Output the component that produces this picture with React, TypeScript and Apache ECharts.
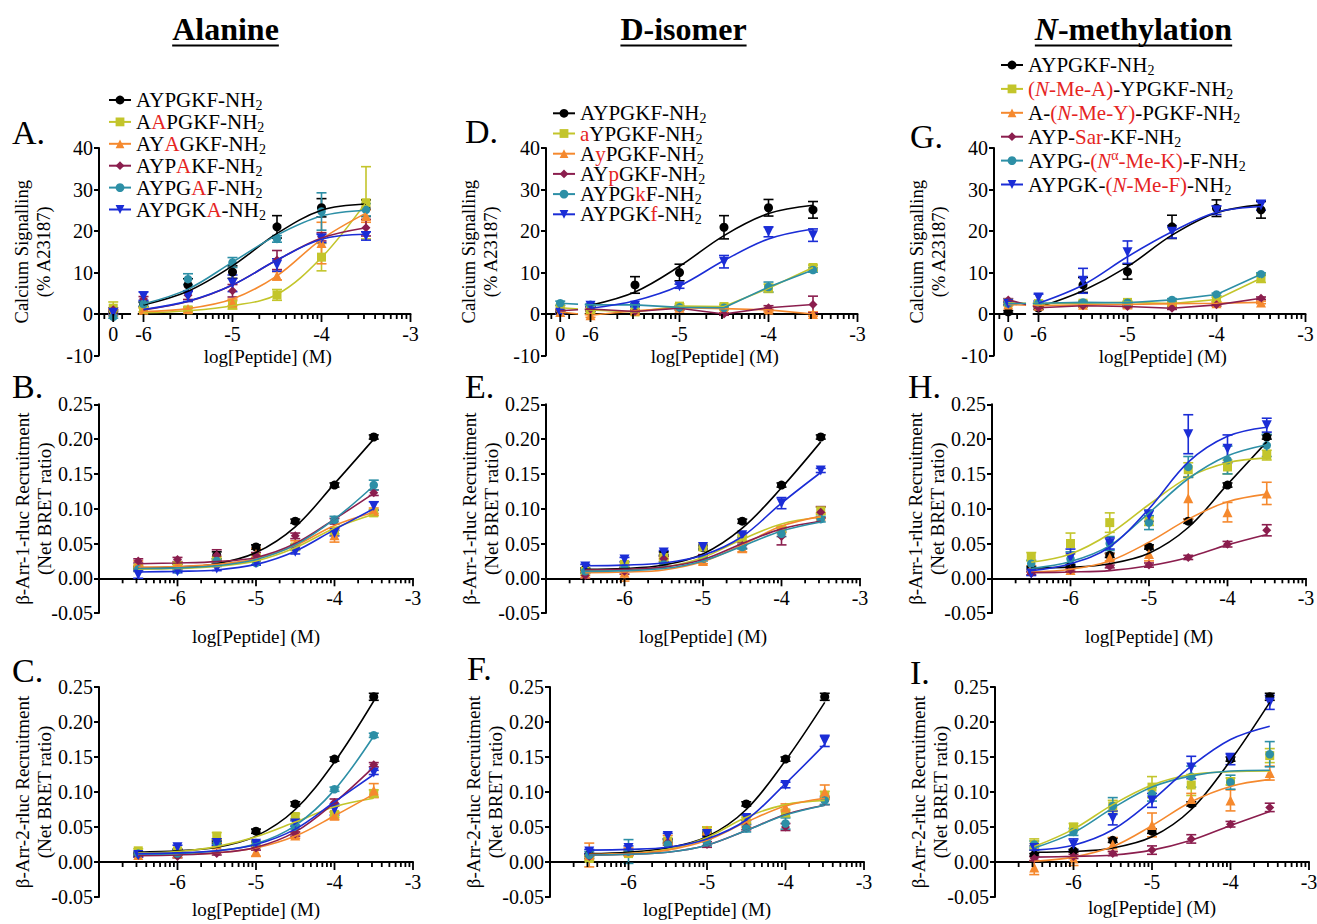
import React, { useEffect, useRef } from 'react';
import * as echarts from 'echarts';

const FF = '"Liberation Serif", "Times New Roman", Times, serif';
const COLORS = ['#000000', '#c3c52b', '#f5892e', '#8b1e4e', '#2d8fa6', '#1b2dd6'];
const RED = '#e5251f';
const SYMBOLS = ['circle', 'rect', 'triangle', 'diamond', 'circle', 'path://M0,0L10,0L5,9Z'];
const SIZES = [9, 9, 10, 9, 8.5, 10];

const ALA_NAMES = ['AYPGKF-NH2', 'AAPGKF-NH2', 'AYAGKF-NH2', 'AYPAKF-NH2', 'AYPGAF-NH2', 'AYPGKA-NH2'];
const DIS_NAMES = ['AYPGKF-NH2', 'aYPGKF-NH2', 'AyPGKF-NH2', 'AYpGKF-NH2', 'AYPGkF-NH2', 'AYPGKf-NH2'];
const NME_NAMES = ['AYPGKF-NH2', '(N-Me-A)-YPGKF-NH2', 'A-(N-Me-Y)-PGKF-NH2', 'AYP-Sar-KF-NH2', 'AYPG-(Nα-Me-K)-F-NH2', 'AYPGK-(N-Me-F)-NH2'];

const LEGEND_RICH: Record<string, string> = {
  'AYPGKF-NH2': '{n|AYPGKF-NH}{s|2}',
  'AAPGKF-NH2': '{n|A}{r|A}{n|PGKF-NH}{s|2}',
  'AYAGKF-NH2': '{n|AY}{r|A}{n|GKF-NH}{s|2}',
  'AYPAKF-NH2': '{n|AYP}{r|A}{n|KF-NH}{s|2}',
  'AYPGAF-NH2': '{n|AYPG}{r|A}{n|F-NH}{s|2}',
  'AYPGKA-NH2': '{n|AYPGK}{r|A}{n|-NH}{s|2}',
  'aYPGKF-NH2': '{r|a}{n|YPGKF-NH}{s|2}',
  'AyPGKF-NH2': '{n|A}{r|y}{n|PGKF-NH}{s|2}',
  'AYpGKF-NH2': '{n|AY}{r|p}{n|GKF-NH}{s|2}',
  'AYPGkF-NH2': '{n|AYPG}{r|k}{n|F-NH}{s|2}',
  'AYPGKf-NH2': '{n|AYPGK}{r|f}{n|-NH}{s|2}',
  '(N-Me-A)-YPGKF-NH2': '{r|(}{ri|N}{r|-Me-A)}{n|-YPGKF-NH}{s|2}',
  'A-(N-Me-Y)-PGKF-NH2': '{n|A-}{r|(}{ri|N}{r|-Me-Y)}{n|-PGKF-NH}{s|2}',
  'AYP-Sar-KF-NH2': '{n|AYP-}{r|Sar}{n|-KF-NH}{s|2}',
  'AYPG-(Nα-Me-K)-F-NH2': '{n|AYPG-}{r|(}{ri|N}{sup|α}{r|-Me-K)}{n|-F-NH}{s|2}',
  'AYPGK-(N-Me-F)-NH2': '{n|AYPGK-}{r|(}{ri|N}{r|-Me-F)}{n|-NH}{s|2}',
};

// x positions (log[Peptide]); ZERO_X is where the vehicle ("0") point sits
const ZERO_X = -6.34;
const CA_X = [ZERO_X, -6, -5.5, -5, -4.5, -4, -3.5];
const CA_FIT_X = [-6, -5.5, -5, -4.5, -4, -3.5];
const BRET_X = [-6.5, -6, -5.5, -5, -4.5, -4, -3.5];
const CA_LABELS = [ZERO_X, -6, -5, -4, -3];
const BRET_LABELS = [-6, -5, -4, -3];

// ---------- Panel A (Calcium, Alanine) ----------
const A_PTS = [
  [0.5, 2.3, 7.0, 10.1, 21.0, 25.6, 25.5],
  [1.4, 1.0, 1.0, 2.2, 4.6, 13.7, 26.8],
  [0.5, 1.0, 1.2, 2.8, 9.2, 17.1, 23.6],
  [1.0, 3.6, 4.5, 5.6, 13.0, 18.6, 20.8],
  [-0.7, 2.4, 8.4, 12.4, 18.1, 24.7, 25.1],
  [0.3, 4.3, 4.3, 7.4, 11.8, 18.2, 18.8],
];
const A_ERR = [
  [0.5, 0.5, 1.5, 1.5, 2.7, 2.2, 2.0],
  [1.5, 0.5, 0.5, 1.0, 1.3, 3.3, 8.7],
  [0.5, 0.5, 0.5, 0.8, 1.0, 5.0, 1.5],
  [0.5, 0.6, 1.0, 1.5, 2.3, 1.0, 2.0],
  [0.3, 0.5, 1.3, 1.2, 0.8, 4.5, 1.5],
  [0.3, 1.0, 1.3, 2.0, 1.5, 1.0, 1.0],
];
const A_FIT = [
  [2.2, 5.5, 11.6, 19.4, 25.0, 26.5],
  [0.3, 0.8, 2.0, 4.7, 13.6, 26.9],
  [0.6, 1.3, 3.6, 9.2, 18.0, 24.3],
  [1.0, 3.0, 7.0, 13.0, 18.3, 20.8],
  [2.4, 6.0, 12.5, 19.0, 23.6, 25.0],
  [1.1, 3.1, 7.0, 13.0, 18.0, 19.2],
];

// ---------- Panel D (Calcium, D-isomer) ----------
const D_PTS = [
  [0.5, 1.3, 7.0, 10.0, 20.9, 25.6, 25.1],
  [1.5, 1.0, 0.5, 1.9, 1.8, 6.2, 11.2],
  [0.5, -0.3, 0.8, 1.5, 1.3, 1.0, 0.0],
  [0.8, 1.2, 0.6, 1.4, 0.0, 1.5, 2.3],
  [2.6, 2.2, 2.2, 1.6, 1.5, 6.5, 10.6],
  [0.3, 2.0, 2.0, 6.7, 12.6, 19.8, 19.0],
];
const D_ERR = [
  [0.3, 0.5, 2.0, 2.0, 2.8, 2.0, 2.0],
  [0.5, 0.5, 0.3, 0.5, 0.5, 1.0, 0.6],
  [0.3, 0.5, 0.3, 0.3, 0.3, 0.5, 0.5],
  [0.3, 0.5, 0.3, 0.5, 0.3, 0.5, 2.0],
  [0.5, 0.3, 0.3, 0.3, 0.3, 1.2, 0.5],
  [0.3, 0.3, 0.3, 0.5, 1.5, 1.2, 1.5],
];
const D_FIT = [
  [2.1, 5.3, 11.5, 18.9, 24.2, 26.2],
  null,
  null,
  null,
  null,
  [1.4, 3.2, 6.8, 12.9, 18.1, 20.5],
];

// ---------- Panel G (Calcium, N-methylation) ----------
const G_PTS = [
  [0.5, 1.4, 7.0, 10.2, 21.0, 25.5, 25.1],
  [2.7, 2.5, 2.6, 2.8, 2.5, 3.5, 8.6],
  [2.3, 2.0, 2.2, 2.3, 2.5, 2.6, 2.8],
  [3.4, 1.5, 2.0, 1.8, 1.4, 2.2, 3.8],
  [2.5, 2.6, 2.8, 2.7, 3.4, 4.7, 9.6],
  [2.5, 4.0, 8.0, 14.9, 19.8, 25.0, 26.2],
];
const G_ERR = [
  [0.3, 0.3, 1.8, 1.8, 2.8, 2.0, 2.0],
  [0.3, 0.3, 0.3, 0.3, 0.3, 0.5, 1.0],
  [0.3, 0.3, 0.3, 0.3, 0.3, 0.3, 0.3],
  [0.3, 0.3, 0.3, 0.3, 0.3, 0.3, 0.3],
  [0.3, 0.3, 0.3, 0.3, 0.3, 0.3, 0.3],
  [0.3, 0.8, 3.0, 2.7, 1.5, 1.0, 1.2],
];
const G_FIT = [
  [1.6, 5.6, 11.4, 19.0, 24.4, 26.3],
  null,
  null,
  null,
  null,
  [2.6, 7.0, 13.8, 19.8, 24.5, 25.9],
];

// ---------- Panel B (β-Arr-1, Alanine) ----------
const B_PTS = [
  [0.015, 0.018, 0.033, 0.045, 0.082, 0.134, 0.203],
  [0.015, 0.018, 0.025, 0.030, 0.045, 0.068, 0.094],
  [0.022, 0.020, 0.028, 0.035, 0.050, 0.062, 0.097],
  [0.025, 0.027, 0.033, 0.033, 0.061, 0.082, 0.123],
  [0.013, 0.012, 0.025, 0.022, 0.045, 0.084, 0.134],
  [0.005, 0.010, 0.014, 0.022, 0.038, 0.065, 0.104],
];
const B_ERR = [
  [0.002, 0.002, 0.005, 0.003, 0.003, 0.003, 0.003],
  [0.002, 0.002, 0.003, 0.003, 0.003, 0.004, 0.004],
  [0.003, 0.003, 0.003, 0.008, 0.004, 0.010, 0.004],
  [0.003, 0.003, 0.008, 0.004, 0.004, 0.004, 0.004],
  [0.002, 0.002, 0.003, 0.003, 0.004, 0.005, 0.007],
  [0.005, 0.002, 0.003, 0.003, 0.003, 0.004, 0.006],
];
const B_FIT = [
  [0.015, 0.016, 0.021, 0.037, 0.074, 0.136, 0.200],
  [0.013, 0.014, 0.017, 0.025, 0.044, 0.072, 0.092],
  [0.016, 0.017, 0.020, 0.028, 0.047, 0.076, 0.095],
  [0.021, 0.022, 0.024, 0.030, 0.050, 0.085, 0.122],
  [0.014, 0.015, 0.018, 0.027, 0.048, 0.085, 0.133],
  [0.009, 0.010, 0.012, 0.020, 0.039, 0.070, 0.100],
];

// ---------- Panel E (β-Arr-1, D-isomer) ----------
const E_PTS = [
  [0.013, 0.013, 0.035, 0.044, 0.082, 0.134, 0.203],
  [0.010, 0.020, 0.030, 0.045, 0.058, 0.070, 0.097],
  [0.007, 0.008, 0.025, 0.025, 0.043, 0.070, 0.090],
  [0.004, 0.010, 0.028, 0.030, 0.047, 0.060, 0.095],
  [0.010, 0.015, 0.020, 0.028, 0.045, 0.064, 0.085],
  [0.017, 0.027, 0.037, 0.045, 0.062, 0.108, 0.155],
];
const E_ERR = [
  [0.002, 0.002, 0.003, 0.003, 0.003, 0.003, 0.003],
  [0.003, 0.003, 0.003, 0.004, 0.004, 0.004, 0.005],
  [0.003, 0.012, 0.004, 0.004, 0.005, 0.004, 0.004],
  [0.004, 0.004, 0.004, 0.004, 0.004, 0.012, 0.008],
  [0.003, 0.003, 0.003, 0.003, 0.003, 0.004, 0.004],
  [0.003, 0.003, 0.003, 0.003, 0.003, 0.008, 0.003],
];
const E_FIT = [
  [0.013, 0.014, 0.019, 0.035, 0.072, 0.130, 0.196],
  [0.011, 0.012, 0.016, 0.030, 0.056, 0.078, 0.088],
  [0.008, 0.009, 0.012, 0.024, 0.048, 0.075, 0.089],
  [0.012, 0.013, 0.016, 0.027, 0.050, 0.071, 0.082],
  [0.010, 0.011, 0.014, 0.025, 0.046, 0.068, 0.081],
  [0.018, 0.019, 0.022, 0.033, 0.060, 0.108, 0.152],
];

// ---------- Panel H (β-Arr-1, N-methylation) ----------
const H_PTS = [
  [0.015, 0.018, 0.033, 0.045, 0.082, 0.134, 0.203],
  [0.031, 0.050, 0.080, 0.082, 0.156, 0.160, 0.177],
  [0.015, 0.012, 0.030, 0.035, 0.115, 0.095, 0.122],
  [0.007, 0.012, 0.017, 0.019, 0.030, 0.049, 0.069],
  [0.021, 0.028, 0.050, 0.080, 0.160, 0.170, 0.191],
  [0.007, 0.030, 0.050, 0.090, 0.207, 0.186, 0.220],
];
const H_ERR = [
  [0.002, 0.002, 0.003, 0.003, 0.003, 0.003, 0.003],
  [0.006, 0.015, 0.014, 0.006, 0.010, 0.010, 0.007],
  [0.003, 0.003, 0.005, 0.010, 0.030, 0.014, 0.016],
  [0.002, 0.002, 0.002, 0.003, 0.003, 0.004, 0.008],
  [0.005, 0.010, 0.010, 0.010, 0.015, 0.020, 0.016],
  [0.003, 0.012, 0.008, 0.008, 0.028, 0.020, 0.010],
];
const H_FIT = [
  [0.015, 0.016, 0.021, 0.036, 0.073, 0.135, 0.196],
  [0.023, 0.035, 0.064, 0.106, 0.145, 0.166, 0.173],
  [0.009, 0.013, 0.025, 0.052, 0.085, 0.110, 0.121],
  [0.008, 0.009, 0.011, 0.018, 0.030, 0.048, 0.063],
  [0.014, 0.024, 0.047, 0.094, 0.143, 0.176, 0.192],
  [0.011, 0.021, 0.045, 0.100, 0.167, 0.204, 0.217],
];

// ---------- Panel C (β-Arr-2, Alanine) ----------
const C_PTS = [
  [0.012, 0.016, 0.030, 0.044, 0.083, 0.147, 0.236],
  [0.016, 0.016, 0.037, 0.025, 0.065, 0.068, 0.098],
  [0.010, 0.012, 0.025, 0.015, 0.038, 0.066, 0.102],
  [0.010, 0.008, 0.012, 0.020, 0.040, 0.085, 0.139],
  [0.012, 0.012, 0.027, 0.027, 0.050, 0.104, 0.181],
  [0.010, 0.021, 0.027, 0.026, 0.055, 0.075, 0.128],
];
const C_ERR = [
  [0.002, 0.002, 0.003, 0.003, 0.003, 0.003, 0.005],
  [0.003, 0.003, 0.005, 0.003, 0.004, 0.004, 0.005],
  [0.003, 0.003, 0.003, 0.007, 0.004, 0.005, 0.010],
  [0.002, 0.002, 0.002, 0.003, 0.003, 0.005, 0.003],
  [0.002, 0.002, 0.003, 0.003, 0.003, 0.003, 0.003],
  [0.003, 0.003, 0.003, 0.003, 0.004, 0.008, 0.003],
];
const C_FIT = [
  [0.014, 0.016, 0.021, 0.037, 0.075, 0.143, 0.230],
  [0.013, 0.015, 0.022, 0.036, 0.057, 0.079, 0.091],
  [0.010, 0.011, 0.013, 0.020, 0.037, 0.066, 0.097],
  [0.009, 0.010, 0.013, 0.021, 0.043, 0.085, 0.136],
  [0.011, 0.012, 0.016, 0.026, 0.052, 0.103, 0.180],
  [0.012, 0.013, 0.016, 0.025, 0.047, 0.086, 0.125],
];

// ---------- Panel F (β-Arr-2, D-isomer) ----------
const F_PTS = [
  [0.010, 0.012, 0.030, 0.040, 0.083, 0.147, 0.236],
  [0.005, 0.012, 0.030, 0.045, 0.060, 0.070, 0.095],
  [0.010, 0.015, 0.033, 0.045, 0.055, 0.078, 0.100],
  [0.008, 0.015, 0.028, 0.025, 0.050, 0.050, 0.087],
  [0.010, 0.015, 0.025, 0.028, 0.048, 0.055, 0.088],
  [0.015, 0.020, 0.037, 0.040, 0.063, 0.110, 0.173],
];
const F_ERR = [
  [0.002, 0.002, 0.003, 0.003, 0.003, 0.003, 0.005],
  [0.003, 0.003, 0.004, 0.005, 0.004, 0.005, 0.006],
  [0.017, 0.005, 0.005, 0.005, 0.005, 0.005, 0.010],
  [0.003, 0.003, 0.004, 0.004, 0.004, 0.005, 0.005],
  [0.005, 0.017, 0.005, 0.005, 0.005, 0.008, 0.006],
  [0.003, 0.003, 0.004, 0.004, 0.004, 0.004, 0.008],
];
const F_FIT = [
  [0.012, 0.014, 0.020, 0.036, 0.075, 0.145, 0.228],
  [0.010, 0.012, 0.018, 0.035, 0.064, 0.082, 0.088],
  [0.011, 0.012, 0.017, 0.031, 0.057, 0.080, 0.091],
  [0.010, 0.011, 0.014, 0.024, 0.045, 0.068, 0.081],
  [0.010, 0.011, 0.014, 0.024, 0.045, 0.067, 0.081],
  [0.017, 0.018, 0.021, 0.033, 0.060, 0.112, 0.168],
];

// ---------- Panel I (β-Arr-2, N-methylation) ----------
const I_PTS = [
  [0.010, 0.016, 0.031, 0.044, 0.083, 0.147, 0.236],
  [0.025, 0.050, 0.080, 0.107, 0.110, 0.115, 0.152],
  [-0.008, 0.005, 0.025, 0.053, 0.090, 0.088, 0.127],
  [0.005, 0.008, 0.012, 0.017, 0.033, 0.054, 0.078],
  [0.025, 0.043, 0.080, 0.097, 0.122, 0.114, 0.154],
  [0.020, 0.025, 0.063, 0.088, 0.135, 0.147, 0.228],
];
const I_ERR = [
  [0.002, 0.002, 0.003, 0.003, 0.003, 0.003, 0.005],
  [0.008, 0.005, 0.008, 0.015, 0.015, 0.005, 0.010],
  [0.010, 0.010, 0.010, 0.017, 0.008, 0.015, 0.010],
  [0.003, 0.003, 0.003, 0.006, 0.006, 0.004, 0.006],
  [0.005, 0.005, 0.012, 0.010, 0.015, 0.010, 0.018],
  [0.003, 0.008, 0.010, 0.010, 0.016, 0.008, 0.010],
];
const I_FIT = [
  [0.014, 0.015, 0.020, 0.036, 0.075, 0.145, 0.228],
  [0.022, 0.047, 0.082, 0.110, 0.125, 0.129, 0.130],
  [0.001, 0.007, 0.022, 0.052, 0.086, 0.108, 0.118],
  [0.007, 0.008, 0.010, 0.017, 0.031, 0.052, 0.072],
  [0.020, 0.042, 0.077, 0.107, 0.123, 0.130, 0.131],
  [0.017, 0.024, 0.046, 0.088, 0.137, 0.175, 0.194],
];

// ---------- Layout ----------
const CA = { min: -6.5, max: -3, width: 311.5, pxPerDec: 89, ymin: -10, ymax: 40 };
const BR = { min: -7, max: -3, width: 314, ymin: -0.05, ymax: 0.25 };
const GAP = [-6.14, -6.065];

const PANELS: any[] = [
  { key: 'A', kind: 'ca', left: 99, top: 148, height: 207.5, names: ALA_NAMES, pts: A_PTS, err: A_ERR, fit: A_FIT, lx: 12, ly: 132.5, nameGap: 33, legend: { left: 108, top: 87.5, gap: -3.1 } },
  { key: 'D', kind: 'ca', left: 546, top: 148, height: 207.5, names: DIS_NAMES, pts: D_PTS, err: D_ERR, fit: D_FIT, lx: 465, ly: 131.5, nameGap: 33, legend: { left: 552, top: 100.8, gap: -4.8 } },
  { key: 'G', kind: 'ca', left: 994, top: 148, height: 207.5, names: NME_NAMES, pts: G_PTS, err: G_ERR, fit: G_FIT, lx: 910, ly: 136.5, nameGap: 33, legend: { left: 1000, top: 52.5, gap: -1.1 } },
  { key: 'B', kind: 'b1', left: 99, top: 404.3, height: 208.8, names: ALA_NAMES, pts: B_PTS, err: B_ERR, fit: B_FIT, lx: 12, ly: 386, nameGap: 49 },
  { key: 'E', kind: 'b1', left: 546, top: 404.3, height: 208.8, names: DIS_NAMES, pts: E_PTS, err: E_ERR, fit: E_FIT, lx: 465, ly: 386, nameGap: 49 },
  { key: 'H', kind: 'b1', left: 992, top: 404.3, height: 208.8, names: NME_NAMES, pts: H_PTS, err: H_ERR, fit: H_FIT, lx: 908, ly: 386.5, nameGap: 49 },
  { key: 'C', kind: 'b2', left: 99, top: 687, height: 210, names: ALA_NAMES, pts: C_PTS, err: C_ERR, fit: C_FIT, lx: 12, ly: 670, nameGap: 38 },
  { key: 'F', kind: 'b2', left: 550, top: 687, height: 210, names: DIS_NAMES, pts: F_PTS, err: F_ERR, fit: F_FIT, lx: 467, ly: 668, nameGap: 38 },
  { key: 'I', kind: 'b2', left: 995, top: 687, height: 210, names: NME_NAMES, pts: I_PTS, err: I_ERR, fit: I_FIT, lx: 910, ly: 672, nameGap: 36 },
];

const LOG_STEPS = [2, 3, 4, 5, 6, 7, 8, 9].map((k) => Math.log10(k));
const minorTicks = (decades: number[]) => decades.flatMap((d) => LOG_STEPS.map((s) => d + s));

function measure(text: string, font: string): number {
  try {
    const ctx = document.createElement('canvas').getContext('2d')!;
    ctx.font = font;
    return ctx.measureText(text).width;
  } catch (e) {
    return text.length * 16;
  }
}

const LF = 21;
const RICH = {
  n: { fontSize: LF, lineHeight: 21, fontFamily: FF, color: '#000' },
  r: { fontSize: LF, lineHeight: 21, fontFamily: FF, color: RED },
  ri: { fontSize: LF, lineHeight: 21, fontFamily: FF, color: RED, fontStyle: 'italic' },
  s: { fontSize: 14, lineHeight: 21, fontFamily: FF, color: '#000', padding: [11, 0, 0, 0] },
  sup: { fontSize: 14, lineHeight: 21, fontFamily: FF, color: RED, padding: [0, 0, 11, 0] },
};

function buildOption() {
  const grid: any[] = [];
  const xAxis: any[] = [];
  const yAxis: any[] = [];
  const series: any[] = [];
  const legend: any[] = [];
  const graphic: any[] = [];

  PANELS.forEach((p, pi) => {
    const isCa = p.kind === 'ca';
    const sc = isCa ? CA : BR;
    const zeroUp = ((0 - sc.ymin) / (sc.ymax - sc.ymin)) * p.height;
    const majors = isCa ? CA_LABELS : BRET_LABELS;
    const minors = isCa ? [ZERO_X - 0.1, ZERO_X + 0.1, ...minorTicks([-6, -5, -4])] : minorTicks([-7, -6, -5, -4]);
    grid.push({ left: p.left, top: p.top, width: sc.width, height: p.height, containLabel: false, outerBoundsMode: 'none' });
    const xi = xAxis.length;
    xAxis.push({
      type: 'value', gridIndex: pi, min: sc.min, max: sc.max, position: 'bottom', offset: -zeroUp,
      axisLine: { show: true, onZero: false, lineStyle: { color: '#000', width: 2 } },
      axisTick: { show: false },
      axisLabel: {
        show: true, customValues: majors, margin: 10,
        fontSize: 20, fontFamily: FF, color: '#000',
        formatter: (v: number) => (v < -6.2 ? '0' : String(Math.round(v))),
      },
      splitLine: { show: false },
      name: 'log[Peptide] (M)', nameLocation: 'middle', nameGap: p.nameGap, nameMoveOverlap: false,
      nameTextStyle: { fontSize: 19, fontFamily: FF, color: '#000', padding: isCa ? [0, 0, 0, 26] : 0 },
    });
    yAxis.push({
      type: 'value', gridIndex: pi,
      min: sc.ymin, max: sc.ymax, interval: isCa ? 10 : 0.05,
      axisLine: { show: true, onZero: false, lineStyle: { color: '#000', width: 2 } },
      axisTick: { show: true, length: 5, lineStyle: { color: '#000', width: 2 } },
      axisLabel: {
        fontSize: 20, fontFamily: FF, color: '#000', margin: 6,
        formatter: (v: number) => (isCa ? String(Math.round(v)) : v.toFixed(2)),
      },
      splitLine: { show: false },
      name: isCa ? 'Calcium Signalling\n(% A23187)' : p.kind === 'b1' ? 'β-Arr-1-rluc Recruitment\n(Net BRET ratio)' : 'β-Arr-2-rluc Recruitment\n(Net BRET ratio)',
      nameLocation: 'middle', nameRotate: 90, nameGap: 44, nameMoveOverlap: false,
      nameTextStyle: { fontSize: isCa ? 18.5 : 19, lineHeight: 22, fontFamily: FF, color: '#000', align: 'center' },
    });

    // x-axis ticks (log-spaced minor ticks + longer major ticks), placed by the axis scale
    series.push({
      type: 'custom', name: 'x ticks', xAxisIndex: xi, yAxisIndex: pi, silent: true, animation: false, z: 5,
      data: [...majors.map((v: number) => [v, 8]), ...minors.map((v: number) => [v, 5])],
      encode: { x: 0 },
      renderItem: (params: any, api: any) => {
        const pt = api.coord([api.value(0), 0]);
        return {
          type: 'line',
          shape: { x1: pt[0], y1: pt[1], x2: pt[0], y2: pt[1] + api.value(1) },
          style: { stroke: '#000', lineWidth: 1.8 },
        };
      },
    });

    const X = isCa ? CA_X : BRET_X;
    const FX = isCa ? CA_FIT_X : BRET_X;
    p.names.forEach((name: string, k: number) => {
      const color = COLORS[k];
      const fit = p.fit[k];
      const pts = p.pts[k];
      const err = p.err[k];
      series.push({
        type: 'line', name, xAxisIndex: xi, yAxisIndex: pi,
        data: fit ? FX.map((x: number, i: number) => [x, fit[i]]) : X.map((x: number, i: number) => [x, pts[i]]),
        smooth: fit ? 0.35 : false, showSymbol: false, symbol: SYMBOLS[k], symbolSize: SIZES[k],
        lineStyle: { color, width: 1.6 }, itemStyle: { color }, silent: true, animation: false,
      });
      series.push({
        type: 'custom', name: name + ' SEM', xAxisIndex: xi, yAxisIndex: pi,
        data: X.map((x: number, i: number) => [x, pts[i], err[i]]),
        encode: { x: 0, y: 1 }, silent: true, animation: false,
        renderItem: (params: any, api: any) => {
          const x = api.value(0), y = api.value(1), e = api.value(2);
          const t = api.coord([x, y + e]);
          const b = api.coord([x, y - e]);
          const w = 5;
          const style = { stroke: color, lineWidth: 1.6, fill: 'none' };
          return {
            type: 'group',
            children: [
              { type: 'line', shape: { x1: t[0], y1: t[1], x2: b[0], y2: b[1] }, style },
              { type: 'line', shape: { x1: t[0] - w, y1: t[1], x2: t[0] + w, y2: t[1] }, style },
              { type: 'line', shape: { x1: b[0] - w, y1: b[1], x2: b[0] + w, y2: b[1] }, style },
            ],
          };
        },
      });
      series.push({
        type: 'scatter', name: name + ' mean', xAxisIndex: xi, yAxisIndex: pi,
        data: X.map((x: number, i: number) => [x, pts[i]]),
        symbol: SYMBOLS[k], symbolSize: SIZES[k], itemStyle: { color, opacity: 1 }, silent: true, animation: false,
      });
    });

    if (p.legend) {
      legend.push({
        orient: 'vertical', left: p.legend.left, top: p.legend.top, itemWidth: 22, itemHeight: 11,
        itemGap: p.legend.gap, selectedMode: false, data: p.names, padding: 0,
        formatter: (n: string) => LEGEND_RICH[n] ?? n,
        textStyle: { fontFamily: FF, fontSize: LF, color: '#000', rich: RICH },
      });
    }

    graphic.push({
      type: 'text', x: p.lx, y: p.ly, z: 50,
      style: { text: p.key + '.', fontFamily: FF, fontSize: 34, fill: '#000', align: 'left', verticalAlign: 'middle' },
    });

    if (isCa) {
      const zeroY = p.top + p.height - zeroUp;
      const gx = p.left + (GAP[0] - CA.min) * CA.pxPerDec;
      const gw = (GAP[1] - GAP[0]) * CA.pxPerDec;
      graphic.push({ type: 'rect', x: gx, y: zeroY - 55, z: 40, shape: { x: 0, y: 0, width: gw, height: 57.5 }, style: { fill: '#ffffff' } });
    }
  });

  const TITLE_FONT = `bold 32px ${FF}`;
  const titles = [
    { cx: 225.5, rich: 'Alanine', w: measure('Alanine', TITLE_FONT) },
    { cx: 683.5, rich: 'D-isomer', w: measure('D-isomer', TITLE_FONT) },
    { cx: 1133.5, rich: '{i|N}-methylation', w: measure('N', `italic bold 32px ${FF}`) + measure('-methylation', TITLE_FONT) },
  ];
  titles.forEach((t) => {
    graphic.push({
      type: 'text', x: t.cx, y: 29, z: 50,
      style: {
        text: t.rich, fontFamily: FF, fontSize: 32, fontWeight: 'bold', fill: '#000', align: 'center', verticalAlign: 'middle',
        rich: { i: { fontFamily: FF, fontSize: 32, fontWeight: 'bold', fontStyle: 'italic', fill: '#000', color: '#000' } },
      },
    });
    graphic.push({
      type: 'line', z: 50,
      shape: { x1: t.cx - t.w / 2, y1: 45.5, x2: t.cx + t.w / 2, y2: 45.5 },
      style: { stroke: '#000', lineWidth: 2.2 },
    });
  });

  return {
    animation: false,
    backgroundColor: '#ffffff',
    textStyle: { fontFamily: FF },
    grid, xAxis, yAxis, series, legend,
    graphic: { elements: graphic },
  };
}

export default function App() {
  const ref = useRef<HTMLDivElement>(null);
  useEffect(() => {
    if (!ref.current) return;
    const chart = echarts.init(ref.current, null, { renderer: 'svg' });
    chart.setOption(buildOption() as any);
    return () => chart.dispose();
  }, []);
  return (
    <div
      ref={ref}
      style={{ position: 'fixed', left: 0, top: 0, width: 1317, height: 924, background: '#fff' }}
    />
  );
}
